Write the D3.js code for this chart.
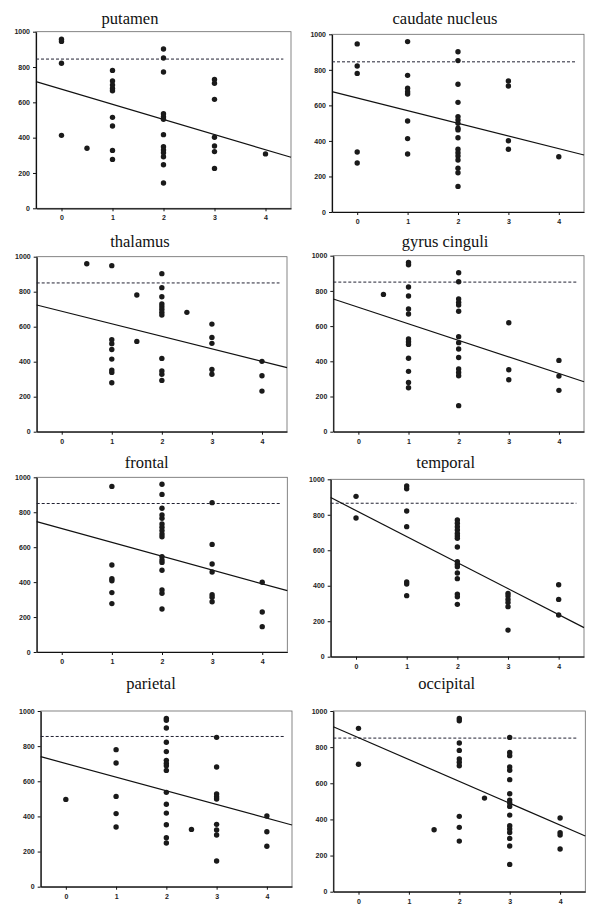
<!DOCTYPE html>
<html><head><meta charset="utf-8">
<script src="https://cdn.jsdelivr.net/npm/d3@7"></script>
<style>
body{margin:0;background:#fff;}
svg{display:block;}
.tick text{font-family:Arial,"Liberation Sans",sans-serif;font-size:7px;font-weight:bold;fill:#222;}
</style></head><body>
<script>
// ---------- DATA ----------
const titles = ["putamen","caudate nucleus","thalamus","gyrus cinguli","frontal","temporal","parietal","occipital"];
const xTicks = [0,1,2,3,4];
const yTicks = [0,200,400,600,800,1000];
const thresholds = [845,845,850,850,850,865,855,850];
const fitStart = [717,677,724,754,746,897,740,913];   // value at x = -0.5
const fitEnd   = [289,321,366,284,351,164,351,308];   // value at x = 4.5

const putamen = [[0,957],[0,945],[0,821],[0,413],[0.5,340],
 [1,781],[1,721],[1,698],[1,679],[1,666],[1,515],[1,466],[1,328],[1,277],
 [2,902],[2,851],[2,772],[2,536],[2,519],[2,504],[2,417],[2,349],[2,330],[2,315],[2,292],[2,247],[2,143],
 [3,730],[3,708],[3,617],[3,402],[3,353],[3,321],[3,226],[4,308]];
const caudate = [[0,946],[0,822],[0,780],[0,338],[0,276],
 [1,959],[1,769],[1,696],[1,677],[1,664],[1,512],[1,413],[1,326],
 [2,902],[2,852],[2,719],[2,617],[2,537],[2,518],[2,499],[2,471],[2,462],[2,418],[2,353],[2,334],[2,315],[2,293],[2,246],[2,221],[2,144],
 [3,737],[3,709],[3,401],[3,353],[4,311]];
const thalamus = [[0.5,960],
 [1,949],[1,526],[1,503],[1,470],[1,415],[1,352],[1,339],[1,280],
 [1.5,781],[1.5,516],
 [2,903],[2,823],[2,771],[2,730],[2,714],[2,699],[2,682],[2,667],[2,419],[2,347],[2,328],[2,293],
 [2.5,682],
 [3,615],[3,539],[3,505],[3,356],[3,328],
 [4,402],[4,320],[4,232]];
const gyrus = [[0.5,780],
 [1,962],[1,949],[1,822],[1,771],[1,697],[1,669],[1,527],[1,511],[1,496],[1,417],[1,343],[1,280],[1,250],
 [2,903],[2,852],[2,754],[2,735],[2,720],[2,684],[2,540],[2,506],[2,470],[2,422],[2,356],[2,337],[2,318],[2,148],
 [3,619],[3,352],[3,295],
 [4,405],[4,316],[4,235]];
const frontal = [[1,948],[1,498],[1,420],[1,408],[1,340],[1,277],
 [2,960],[2,902],[2,823],[2,784],[2,765],[2,733],[2,714],[2,695],[2,676],[2,660],[2,546],[2,527],[2,513],[2,468],[2,355],[2,336],[2,246],
 [3,855],[3,616],[3,504],[3,458],[3,328],[3,313],[3,288],
 [4,399],[4,229],[4,145]];
const temporal = [[0,904],[0,782],
 [1,962],[1,947],[1,821],[1,733],[1,421],[1,410],[1,344],
 [2,771],[2,752],[2,733],[2,714],[2,695],[2,680],[2,667],[2,618],[2,536],[2,521],[2,507],[2,472],[2,440],[2,353],[2,338],[2,295],
 [3,357],[3,342],[3,323],[3,305],[3,282],[3,150],
 [4,406],[4,323],[4,235]];
const parietal = [[0,497],
 [1,780],[1,704],[1,514],[1,416],[1,340],
 [2,958],[2,947],[2,903],[2,822],[2,769],[2,719],[2,702],[2,689],[2,662],[2,537],[2,469],[2,419],[2,353],[2,279],[2,249],
 [2.5,326],
 [3,850],[3,681],[3,528],[3,512],[3,499],[3,355],[3,323],[3,294],[3,146],
 [4,402],[4,313],[4,230]];
const occipital = [[0,904],[0,705],[1.5,343],
 [2,959],[2,946],[2,823],[2,782],[2,734],[2,716],[2,697],[2,417],[2,356],[2,280],
 [2.5,518],
 [3,854],[3,771],[3,753],[3,690],[3,672],[3,620],[3,542],[3,507],[3,491],[3,472],[3,424],[3,365],[3,347],[3,328],[3,295],[3,253],[3,151],
 [4,408],[4,327],[4,314],[4,236]];
const series = [putamen,caudate,thalamus,gyrus,frontal,temporal,parietal,occipital];

// ---------- LAYOUT ----------
const layout = [
 {l:36, r:291, t:31.7, b:208.3, tx:130, ty:24},
 {l:332,r:584, t:34.3, b:212,   tx:445, ty:24.3},
 {l:36.7,r:287,t:256.7,b:431.7, tx:140, ty:246.7},
 {l:333.3,r:584,t:255.7,b:431.7,tx:445, ty:246.7},
 {l:36.7,r:287.3,t:477.3,b:652, tx:146.7,ty:468.3},
 {l:330.7,r:584,t:479.3,b:656.7,tx:445.7,ty:468.3},
 {l:40.7,r:292,t:711, b:886.7,  tx:151, ty:689},
 {l:333.3,r:585.3,t:711,b:891.7,tx:446.7,ty:689}
];

const svg = d3.select("body").append("svg").attr("width",600).attr("height",922);

layout.forEach((L,i)=>{
  const x = d3.scaleLinear().domain([-0.5,4.5]).range([L.l,L.r]);
  const y = d3.scaleLinear().domain([0,1000]).range([L.b,L.t]);
  const g = svg.append("g");

  // frame
  g.append("rect").attr("x",L.l).attr("y",L.t).attr("width",L.r-L.l).attr("height",L.b-L.t)
    .attr("fill","none").attr("stroke","#666").attr("stroke-width",0.8);

  // axes
  const ax = g.append("g").attr("transform",`translate(0,${L.b})`)
    .call(d3.axisBottom(x).tickValues(xTicks).tickSize(3).tickSizeOuter(0).tickPadding(4).tickFormat(d3.format("d")));
  const ay = g.append("g").attr("transform",`translate(${L.l},0)`)
    .call(d3.axisLeft(y).tickValues(yTicks).tickSize(3).tickSizeOuter(0).tickPadding(3).tickFormat(d3.format("d")));
  [ax,ay].forEach(a=>{
    a.select(".domain").attr("stroke","#111").attr("stroke-width",1.2);
    a.selectAll(".tick line").attr("stroke","#111");
  });

  // threshold dashed line
  g.append("line").attr("x1",x(-0.5)).attr("x2",x(4.35))
    .attr("y1",y(thresholds[i])).attr("y2",y(thresholds[i]))
    .attr("stroke","#223").attr("stroke-width",1).attr("stroke-dasharray","3,2");

  // regression line
  g.append("line").attr("x1",x(-0.5)).attr("x2",x(4.5))
    .attr("y1",y(fitStart[i])).attr("y2",y(fitEnd[i]))
    .attr("stroke","#111").attr("stroke-width",1.2);

  // points
  g.selectAll("circle.pt").data(series[i]).join("circle").attr("class","pt")
    .attr("cx",d=>x(d[0])).attr("cy",d=>y(d[1])).attr("r",2.7).attr("fill","#1a1a1a");

  // title
  svg.append("text").attr("x",L.tx).attr("y",L.ty).attr("text-anchor","middle")
    .attr("font-family","'Liberation Serif','Times New Roman',serif").attr("font-size",16.5)
    .attr("fill","#111").text(titles[i]);
});
</script>
</body></html>
